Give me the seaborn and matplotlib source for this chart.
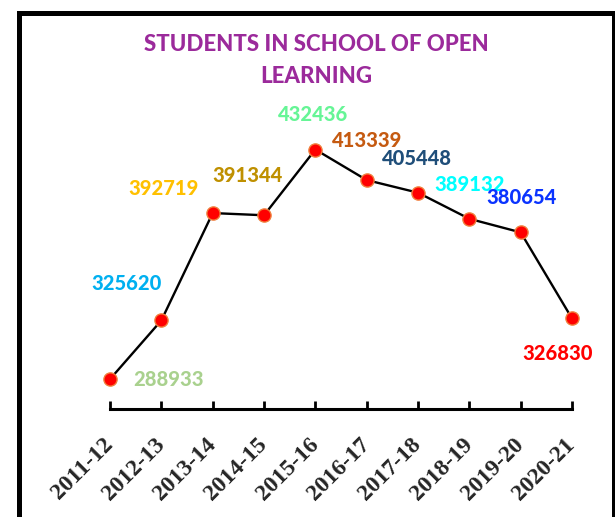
"""Line chart: students in School of Open Learning, 2011-12 to 2020-21."""

import matplotlib
matplotlib.use("Agg")
import matplotlib.pyplot as plt
import pandas as pd
import seaborn as sns
from matplotlib.patches import Rectangle

years = ["2011-12", "2012-13", "2013-14", "2014-15", "2015-16",
         "2016-17", "2017-18", "2018-19", "2019-20", "2020-21"]
students = [288933, 325620, 392719, 391344, 432436,
            413339, 405448, 389132, 380654, 326830]
label_colors = ["#A9D18E", "#00B0F0", "#FFC000", "#BF9000", "#66F596",
                "#C55A11", "#1F4E79", "#00FFFF", "#0A33FF", "#FF0000"]
# label offsets in pixels from each point
label_offsets = [(58, 0), (-35, 37), (-49, 25), (-17, 40), (-2, 35),
                 (0, 40), (-1, 34), (0, 34), (1, 35), (-14, -35)]


def _main() -> None:
    df = pd.DataFrame({"year": years, "students": students})
    sns.set_style("white")

    fig = plt.figure(figsize=(6.15, 5.17), dpi=100)
    ax = fig.add_axes([0.1789, 0.2081, 0.7512, 0.588])
    sns.lineplot(data=df, x="year", y="students", sort=False, ax=ax,
                 color="black", linewidth=1.7, marker="o", markersize=9.5,
                 markerfacecolor="#FF0000", markeredgecolor="#F07F3C",
                 markeredgewidth=1.0, zorder=3, clip_on=False)

    for i, (val, col, off) in enumerate(zip(students, label_colors,
                                            label_offsets)):
        ax.annotate(str(val), (i, val), xytext=off,
                    textcoords="offset pixels", ha="center", va="center",
                    color=col, fontsize=14.5, fontweight="black",
                    family="Lato")

    ax.set_xlim(0, len(years) - 1)
    ax.set_ylim(270000, 460000)
    ax.set_xlabel("")
    ax.set_ylabel("")
    ax.set_yticks([])
    for side in ["left", "right", "top"]:
        ax.spines[side].set_visible(False)
    ax.spines["bottom"].set_linewidth(2.2)
    ax.spines["bottom"].set_color("black")
    ax.tick_params(axis="x", bottom=True, direction="in", length=6,
                   width=2, color="black", pad=23)
    for lbl in ax.get_xticklabels():
        lbl.set_rotation(45)
        lbl.set_ha("right")
        lbl.set_va("center")
        lbl.set_rotation_mode("anchor")
        lbl.set_fontfamily("Liberation Serif")
        lbl.set_fontweight("bold")
        lbl.set_fontsize(17)

    fig.text(0.514, 0.883, "STUDENTS IN SCHOOL OF OPEN\nLEARNING",
             ha="center", va="center", multialignment="center",
             color="#9B2A9B", fontsize=16, fontweight="black",
             family="Lato", linespacing=1.7)

    # outer chart border (runs off the right/bottom edges in the original)
    fig.patches.append(Rectangle((0.0317, -0.1), 0.966, 1.0758,
                                 transform=fig.transFigure, fill=False,
                                 edgecolor="black", linewidth=3.6,
                                 clip_on=False))

    fig.savefig("out.png", dpi=100, facecolor="w")


if __name__ == "__main__":
    _main()
